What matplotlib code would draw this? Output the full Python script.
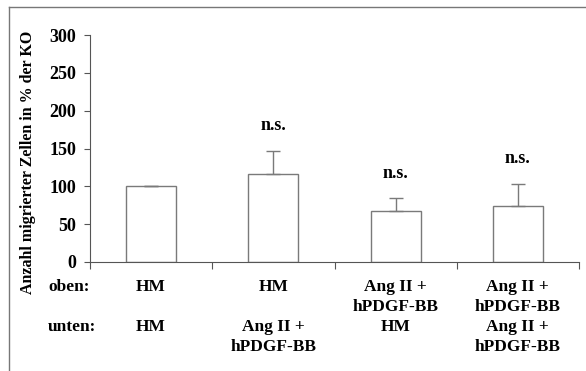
import matplotlib.pyplot as plt
import matplotlib.transforms as mtransforms
from matplotlib.lines import Line2D

# Migration assay: Werte in % der Kontrolle (KO)
oben = ["HM", "HM", "Ang II +\nhPDGF-BB", "Ang II +\nhPDGF-BB"]
unten = ["HM", "Ang II +\nhPDGF-BB", "HM", "Ang II +\nhPDGF-BB"]
werte = [100, 116, 67, 74]
fehler = [0, 31, 17, 29]
signif = ["", "n.s.", "n.s.", "n.s."]

plt.rcParams["font.family"] = ["Liberation Serif", "DejaVu Serif"]
plt.rcParams["font.weight"] = "bold"

W, H = 586.0, 371.0
fig = plt.figure(figsize=(W / 100, H / 100), dpi=100)
ax = fig.add_axes([90 / W, 1 - 262 / H, 489 / W, 227 / H])

x = list(range(len(werte)))
ax.bar(x, werte, width=0.41, color="white", edgecolor="#7a7a7a", linewidth=1.0, zorder=2)
ax.errorbar(x, werte, yerr=[[0] * len(fehler), fehler], fmt="none",
            ecolor="#7a7a7a", elinewidth=1.0, capsize=5, capthick=1.0, zorder=3)

for xi, w, f, s in zip(x, werte, fehler, signif):
    if s:
        ax.annotate(s, (xi, w + f), xytext=(0, 15), textcoords="offset points",
                    ha="center", va="baseline", fontsize=13, fontweight="bold")

ax.set_xlim(-0.5, len(werte) - 0.5)
ax.set_ylim(0, 300)
ax.set_yticks(range(0, 301, 50))
ax.set_yticklabels([str(v) for v in range(0, 301, 50)], fontsize=13, fontweight="bold")
ax.set_xticks([i + 0.5 for i in range(-1, len(werte))])
ax.set_xticklabels([])
ax.tick_params(axis="both", direction="out", length=4, color="#555555", width=0.8)
ax.tick_params(axis="x", length=5)
ax.tick_params(axis="y", pad=6)

for side in ["top", "right"]:
    ax.spines[side].set_visible(False)
for side in ["left", "bottom"]:
    ax.spines[side].set_color("#555555")
    ax.spines[side].set_linewidth(0.8)

ax.set_ylabel("Anzahl migrierter Zellen in % der KO", fontsize=11.5, fontweight="bold")
ax.yaxis.set_label_coords(-0.110, 0.44)

# Zeilenbeschriftungen unter der Achse, eine Textzeile je 20 px
zeile = 20 / H
y_oben = 1 - 291 / H
y_unten = 1 - 331 / H
fig.text(48 / W, y_oben, "oben:", ha="left", va="baseline", fontsize=12.5, fontweight="bold")
fig.text(48 / W, y_unten, "unten:", ha="left", va="baseline", fontsize=12.5, fontweight="bold")

blend = mtransforms.blended_transform_factory(ax.transData, fig.transFigure)
for xi, o, u in zip(x, oben, unten):
    for y0, label in [(y_oben, o), (y_unten, u)]:
        for i, line in enumerate(label.split("\n")):
            ax.text(xi, y0 - i * zeile, line, transform=blend, ha="center", va="baseline",
                    fontsize=12.5, fontweight="bold", clip_on=False)

# Rahmen oben und links
fig.add_artist(Line2D([9 / W, 1], [1 - 7 / H, 1 - 7 / H], transform=fig.transFigure,
                      color="#777777", linewidth=1.0))
fig.add_artist(Line2D([9 / W, 9 / W], [0, 1 - 7 / H], transform=fig.transFigure,
                      color="#777777", linewidth=1.0))

fig.savefig("out.png", dpi=100)
plt.close(fig)
